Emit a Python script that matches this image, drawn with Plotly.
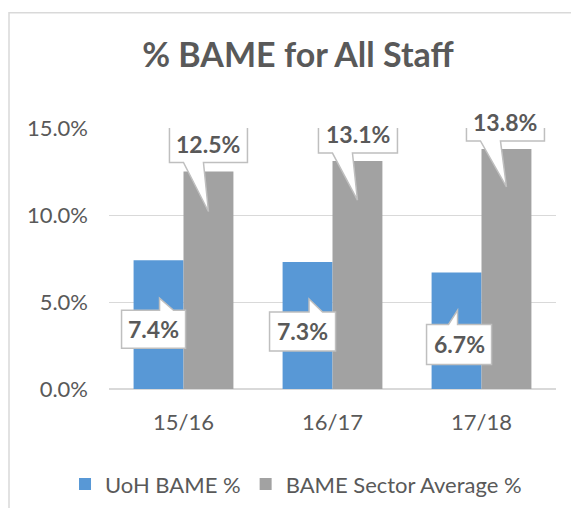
import plotly.graph_objects as go

# ---- data ----
categories = ["15/16", "16/17", "17/18"]
uoh_bame = [7.4, 7.3, 6.7]
sector_avg = [12.5, 13.1, 13.8]
series_names = ["UoH BAME %", "BAME Sector Average %"]
y_ticks = [0, 5, 10, 15]

# ---- style / layout constants ----
FONT = "Lato"
TXT = "#595959"
BLUE = "#5898D6"
GRAY = "#A2A2A2"
BAR_W = 0.335
# callout geometry in pixels relative to bar-top centre: box (x0, x1, y0, y1), wedge base (w0, w1), tip (tx, ty)
blue_callouts = [
    dict(box=(-37, 27, -88, -50), wedge=(1, 15), tip=(1, -38), side="top"),
    dict(box=(-38, 28, -89, -50), wedge=(1.5, 15), tip=(1.5, -37), side="top"),
    dict(box=(-30, 35, -92, -52), wedge=(-8, 1), tip=(1, -38), side="top"),
]
gray_callouts = [
    dict(box=(-39, 39, 9, 47), wedge=(-25, -5), tip=(0, -40), side="bottom"),
    dict(box=(-39, 40, 8, 46), wedge=(-25, -5), tip=(0, -39), side="bottom"),
    dict(box=(-40, 38, 8, 46), wedge=(-26, -6), tip=(0, -38), side="bottom"),
]

x_idx = list(range(len(categories)))

fig = go.Figure()
fig.add_trace(go.Bar(x=x_idx, y=uoh_bame, name=series_names[0], width=BAR_W, offset=-BAR_W,
                     marker=dict(color=BLUE, line=dict(width=0))))
fig.add_trace(go.Bar(x=x_idx, y=sector_avg, name=series_names[1], width=BAR_W, offset=0,
                     marker=dict(color=GRAY, line=dict(width=0))))


def callout_path(c):
    x0, x1, y0, y1 = c["box"]
    w0, w1 = c["wedge"]
    tx, ty = c["tip"]
    if c["side"] == "top":
        pts = [(x0, y1), (w0, y1), (tx, ty), (w1, y1), (x1, y1), (x1, y0), (x0, y0)]
    else:
        pts = [(x0, y1), (x1, y1), (x1, y0), (w1, y0), (tx, ty), (w0, y0), (x0, y0)]
    return "M" + " L".join(f"{px},{py}" for px, py in pts) + " Z"


shapes = []
annotations = []
for vals, cfgs, shift in [(uoh_bame, blue_callouts, -BAR_W / 2), (sector_avg, gray_callouts, BAR_W / 2)]:
    for i, (v, c) in enumerate(zip(vals, cfgs)):
        xa = x_idx[i] + shift
        shapes.append(dict(type="path", xref="x", yref="y", xsizemode="pixel", ysizemode="pixel",
                           xanchor=xa, yanchor=v, path=callout_path(c),
                           fillcolor="white", line=dict(color="#BFBFBF", width=1.5), layer="above"))
        x0, x1, y0, y1 = c["box"]
        annotations.append(dict(x=xa, y=v, xref="x", yref="y", text=f"{v:.1f}%", showarrow=False,
                                xshift=(x0 + x1) / 2, yshift=(y0 + y1) / 2,
                                xanchor="center", yanchor="middle",
                                font=dict(family=FONT, size=23, color=TXT, weight="bold")))

# outer chart frame (cut off at right/bottom)
shapes.append(dict(type="rect", xref="paper", yref="paper", x0=-0.2237, x1=1.2, y0=-0.6, y1=1.442,
                   line=dict(color="#D9D9D9", width=1.5), fillcolor="rgba(0,0,0,0)", layer="below"))

fig.update_layout(
    width=579, height=508,
    margin=dict(l=101, r=31, t=120, b=125.5, pad=0),
    paper_bgcolor="white", plot_bgcolor="white",
    barmode="overlay",
    title=dict(text="% BAME for All Staff", x=290 / 579, y=1 - 47 / 508, xanchor="center", yanchor="middle",
               font=dict(family=FONT, size=34, color=TXT, weight="bold")),
    xaxis=dict(tickvals=x_idx, ticktext=categories, range=[-0.5, len(categories) - 0.5],
               showgrid=False, zeroline=False, showline=False, ticks="",
               tickfont=dict(family=FONT, size=22, color=TXT), ticklabelstandoff=18),
    yaxis=dict(range=[0, 15], tickvals=y_ticks, ticktext=[f"{t:.1f}%" for t in y_ticks],
               showgrid=True, gridcolor="#D9D9D9", gridwidth=1, zeroline=True, zerolinecolor="#D9D9D9",
               zerolinewidth=1.5, showline=False, ticks="",
               tickfont=dict(family=FONT, size=22, color=TXT), ticklabelstandoff=20),
    legend=dict(orientation="h", x=-0.0984, y=-0.36, xanchor="left", yanchor="middle",
                font=dict(family=FONT, size=22, color=TXT), bgcolor="rgba(0,0,0,0)"),
    shapes=shapes,
    annotations=annotations,
    showlegend=True,
)

fig.write_html("out.html")
